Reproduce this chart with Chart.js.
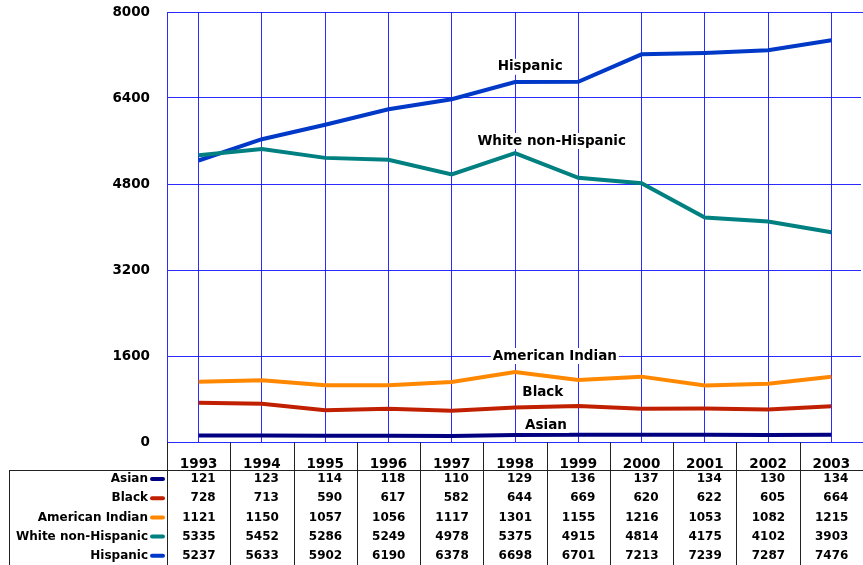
<!DOCTYPE html>
<html>
<head>
  <script src="https://cdn.jsdelivr.net/npm/chart.js@4"></script>
  <style>
    html, body { margin: 0; padding: 0; background: #ffffff; }
    #chartCanvas { display: block; }
  </style>
</head>
<body>
  <canvas id="chartCanvas" width="863" height="565"></canvas>

  <script>
    const years = ['1993', '1994', '1995', '1996', '1997', '1998', '1999', '2000', '2001', '2002', '2003'];
    const yTicks = [0, 1600, 3200, 4800, 6400, 8000];

    const asian = [121, 123, 114, 118, 110, 129, 136, 137, 134, 130, 134];
    const black = [728, 713, 590, 617, 582, 644, 669, 620, 622, 605, 664];
    const americanIndian = [1121, 1150, 1057, 1056, 1117, 1301, 1155, 1216, 1053, 1082, 1215];
    const whiteNonHispanic = [5335, 5452, 5286, 5249, 4978, 5375, 4915, 4814, 4175, 4102, 3903];
    const hispanic = [5237, 5633, 5902, 6190, 6378, 6698, 6701, 7213, 7239, 7287, 7476];

    const seriesNames = ['Asian', 'Black', 'American Indian', 'White non-Hispanic', 'Hispanic'];
    const seriesColors = ['#000080', '#c02000', '#ff8800', '#008080', '#0038c8'];
    const seriesData = [asian, black, americanIndian, whiteNonHispanic, hispanic];

    // line labels, anchored in data space (category index, value)
    const lineLabels = [
      { text: 'Hispanic', x: 5.24, y: 6980 },
      { text: 'White non-Hispanic', x: 5.58, y: 5600 },
      { text: 'American Indian', x: 5.63, y: 1600 },
      { text: 'Black', x: 5.44, y: 912 },
      { text: 'Asian', x: 5.49, y: 316 }
    ];

    const fontFamily = '"DejaVu Sans", Verdana, sans-serif';
    const labelFont = 'bold 13.5px ' + fontFamily;
    const tableFont = 'bold 12px ' + fontFamily;

    // labels drawn on the chart + the data table under it
    const tablePlugin = {
      id: 'tablePlugin',
      afterDraw(chart) {
        const ctx = chart.ctx;
        const xs = chart.scales.x;
        const ys = chart.scales.y;
        const area = chart.chartArea;
        const colW = xs.getPixelForValue(1) - xs.getPixelForValue(0);

        ctx.save();

        // no border on the right side of the plot
        ctx.fillStyle = '#ffffff';
        ctx.fillRect(area.right - 2, area.top + 1, 2, area.bottom - area.top - 1);

        ctx.font = labelFont;
        ctx.textBaseline = 'middle';
        ctx.textAlign = 'center';

        lineLabels.forEach(l => {
          const px = xs.getPixelForValue(l.x);
          const py = ys.getPixelForValue(l.y);
          const w = ctx.measureText(l.text).width;
          ctx.fillStyle = '#ffffff';
          ctx.fillRect(px - w / 2 - 2, py - 8, w + 4, 16);
          ctx.fillStyle = '#000000';
          ctx.fillText(l.text, px, py);
        });

        // table lines
        const headerBottom = 470;
        const tableBottom = 566;
        ctx.strokeStyle = '#222222';
        ctx.lineWidth = 1;
        ctx.beginPath();
        ctx.moveTo(9.5, headerBottom + 0.5);
        ctx.lineTo(chart.width, headerBottom + 0.5);
        ctx.moveTo(9.5, headerBottom);
        ctx.lineTo(9.5, tableBottom);
        for (let i = 0; i < years.length; i++) {
          const bx = Math.round(area.left + i * colW) + 0.5;
          ctx.moveTo(bx, area.bottom);
          ctx.lineTo(bx, tableBottom);
        }
        ctx.stroke();

        // rows
        ctx.font = tableFont;
        const rowStart = 479;
        const rowStep = 19.2;
        seriesNames.forEach((name, r) => {
          const ry = rowStart + r * rowStep;
          ctx.fillStyle = '#000000';
          ctx.textAlign = 'right';
          ctx.fillText(name, 148, ry);
          ctx.strokeStyle = seriesColors[r];
          ctx.lineWidth = 4;
          ctx.lineCap = 'round';
          ctx.beginPath();
          ctx.moveTo(152, ry);
          ctx.lineTo(163, ry);
          ctx.stroke();
          seriesData[r].forEach((v, i) => {
            ctx.fillText(String(v), xs.getPixelForValue(i) + 17, ry);
          });
        });
        ctx.restore();
      }
    };

    const gridColor = 'rgba(20, 20, 255, 0.9)';

    new Chart(document.getElementById('chartCanvas').getContext('2d'), {
      type: 'line',
      data: {
        labels: years,
        datasets: seriesNames.map((name, i) => ({
          label: name,
          data: seriesData[i],
          borderColor: seriesColors[i],
          backgroundColor: seriesColors[i],
          borderWidth: 4,
          pointRadius: 0,
          tension: 0,
          fill: false
        }))
      },
      options: {
        responsive: false,
        animation: false,
        events: [],
        layout: { padding: { left: 0, top: 12, right: 0, bottom: 0 } },
        plugins: {
          legend: { display: false },
          tooltip: { enabled: false }
        },
        scales: {
          x: {
            offset: true,
            grid: { color: gridColor, drawTicks: false, offset: false },
            border: { display: false },
            ticks: {
              color: '#000000',
              font: { family: fontFamily, size: 13.5, weight: 'bold' },
              padding: 14,
              maxRotation: 0,
              autoSkip: false
            },
            afterFit(scale) {
              scale.height = 123;
              scale.paddingLeft = 0;
              scale.paddingRight = 0;
            }
          },
          y: {
            min: yTicks[0],
            max: yTicks[yTicks.length - 1],
            grid: { color: gridColor, tickLength: 17, tickColor: 'rgba(0,0,0,0)' },
            border: { display: true, color: gridColor, width: 1 },
            ticks: {
              stepSize: yTicks[1] - yTicks[0],
              color: '#000000',
              font: { family: fontFamily, size: 13.5, weight: 'bold' },
              padding: 0,
              callback: v => String(v)
            },
            afterFit(scale) { scale.width = 167; }
          }
        }
      },
      plugins: [tablePlugin]
    });
  </script>
</body>
</html>
